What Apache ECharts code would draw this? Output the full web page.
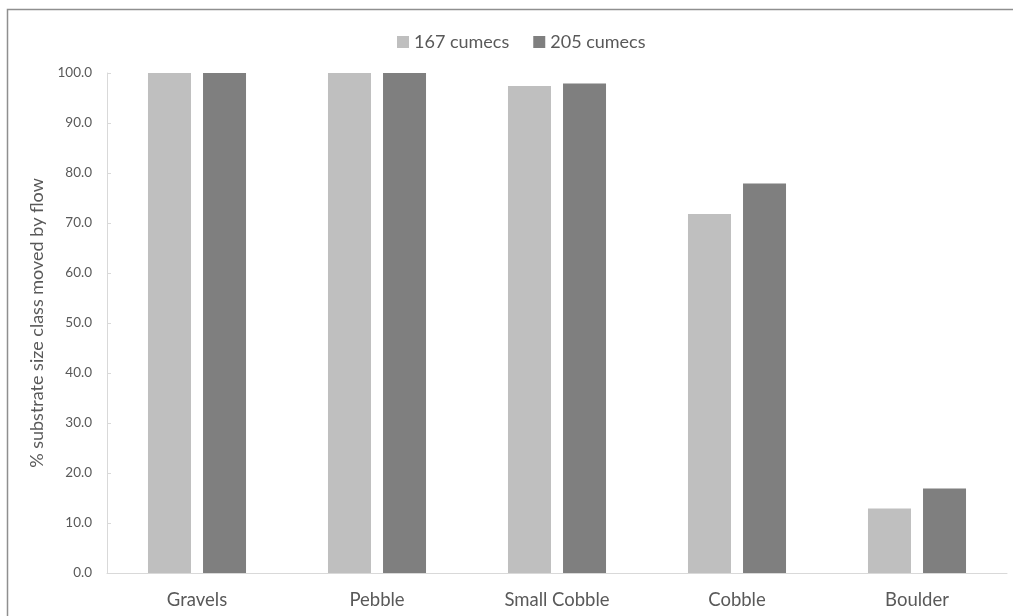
<!DOCTYPE html>
<html>
<head>
<meta charset="utf-8">
<script src="https://cdn.jsdelivr.net/npm/echarts@6/dist/echarts.min.js"></script>
<style>
html,body{margin:0;padding:0;background:#fff;}
#chart{width:1013px;height:616px;}
</style>
</head>
<body>
<div id="chart"></div>
<script>
const categories = ['Gravels', 'Pebble', 'Small Cobble', 'Cobble', 'Boulder'];
const seriesNames = ['167 cumecs', '205 cumecs'];
const values167 = [100.0, 100.0, 97.4, 71.8, 12.9];
const values205 = [100.0, 100.0, 97.9, 77.9, 16.9];
const yTicks = [0, 10, 20, 30, 40, 50, 60, 70, 80, 90, 100];

const FONT = 'Lato, "Open Sans", "Noto Sans", sans-serif';
const chart = echarts.init(document.getElementById('chart'), null, {renderer: 'canvas'});
chart.setOption({
  animation: false,
  backgroundColor: '#ffffff',
  textStyle: {fontFamily: FONT},
  graphic: [{
    type: 'rect',
    shape: {x: 7.5, y: 9.5, width: 1020, height: 620},
    style: {fill: 'none', stroke: '#8f8f8f', lineWidth: 1.5},
    silent: true
  }],
  legend: {
    data: seriesNames,
    top: 28,
    left: 392,
    itemWidth: 12,
    itemHeight: 12,
    itemGap: 24,
    icon: 'rect',
    textStyle: {fontFamily: FONT, fontSize: 18, color: '#595959'}
  },
  grid: {left: 107, right: 6, top: 73, bottom: 43, containLabel: false},
  xAxis: {
    type: 'category',
    data: categories,
    axisLine: {show: true, lineStyle: {color: '#d9d9d9', width: 1}},
    axisTick: {show: false},
    axisLabel: {fontFamily: FONT, fontSize: 18.5, color: '#595959', margin: 18}
  },
  yAxis: {
    type: 'value',
    min: yTicks[0],
    max: yTicks[yTicks.length - 1],
    interval: 10,
    name: '% substrate size class moved by flow',
    nameLocation: 'middle',
    nameGap: 50,
    nameRotate: 90,
    nameTextStyle: {fontFamily: FONT, fontSize: 18, color: '#595959'},
    axisLine: {show: true, lineStyle: {color: '#d9d9d9', width: 1}},
    axisTick: {show: true, inside: true, length: 4, lineStyle: {color: '#d9d9d9'}},
    splitLine: {show: false},
    axisLabel: {
      fontFamily: FONT, fontSize: 13.5, color: '#595959', margin: 15,
      formatter: v => v.toFixed(1)
    }
  },
  series: [
    {
      name: seriesNames[0], type: 'bar', data: values167,
      barWidth: 43, barGap: '28%',
      itemStyle: {color: '#bfbfbf'}
    },
    {
      name: seriesNames[1], type: 'bar', data: values205,
      barWidth: 43, barGap: '28%',
      itemStyle: {color: '#7f7f7f'}
    }
  ]
});
</script>
</body>
</html>
